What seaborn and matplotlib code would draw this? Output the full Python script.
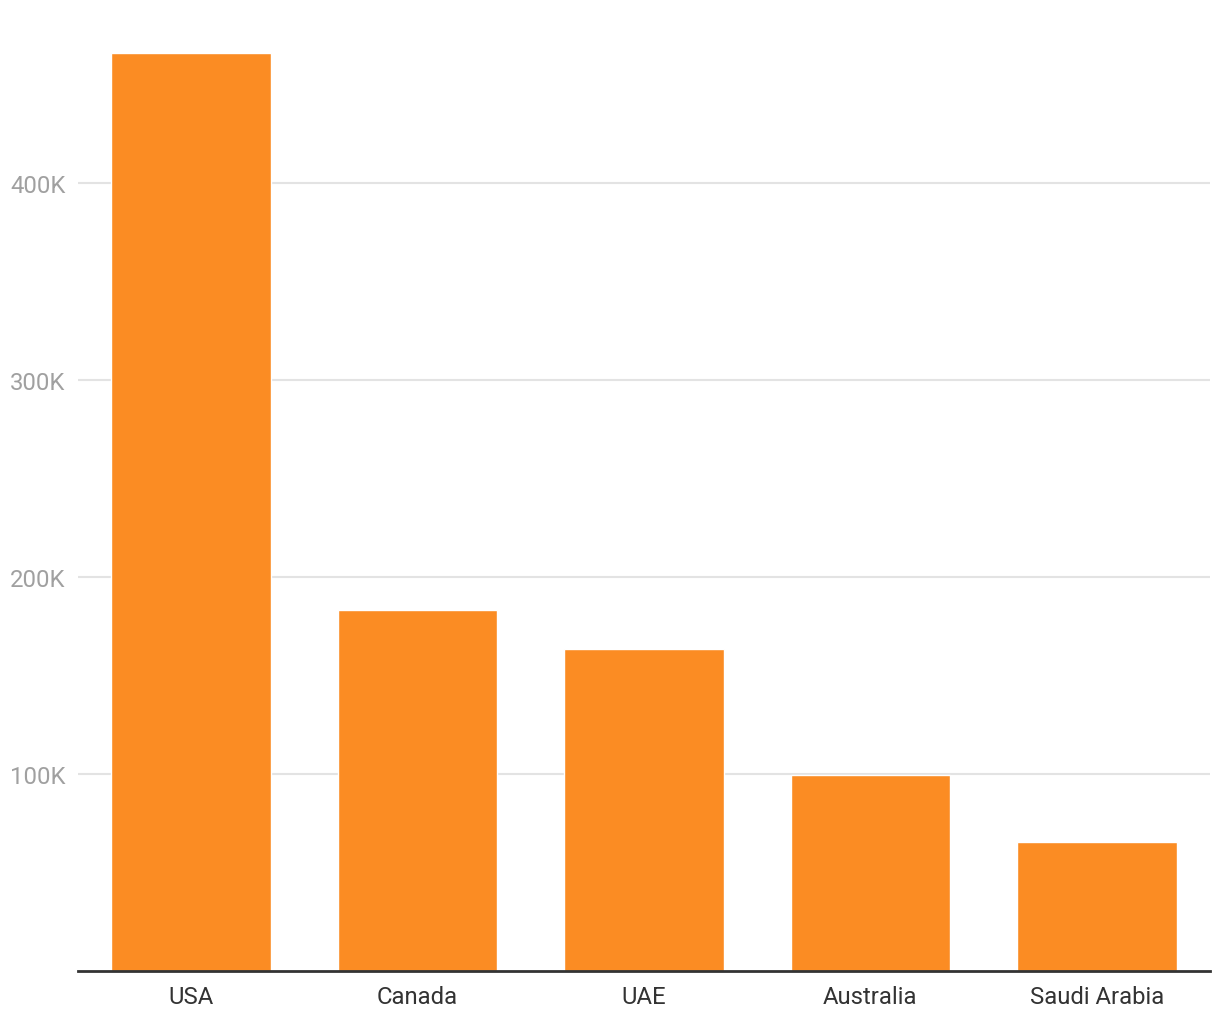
import matplotlib
matplotlib.use("Agg")
import matplotlib.pyplot as plt
import seaborn as sns
import pandas as pd
from matplotlib.ticker import FuncFormatter

countries = ["USA", "Canada", "UAE", "Australia", "Saudi Arabia"]
values = [466000, 183000, 163700, 99700, 65700]

df = pd.DataFrame({"country": countries, "value": values})

sns.set_style("white")
plt.rcParams["font.family"] = ["Roboto", "DejaVu Sans"]

fig = plt.figure(figsize=(12.2, 10.2), dpi=100)
ax = fig.add_axes([78/1220, 1 - 972/1020, (1210 - 78)/1220, (972 - 30)/1020])

sns.barplot(data=df, x="country", y="value", color="#FB8C23", saturation=1,
            width=0.705, ax=ax, zorder=2)

ax.set_xlim(-0.5, 4.5)
ax.set_ylim(0, 942/197*100000)
ax.set_yticks([100000, 200000, 300000, 400000])
ax.yaxis.set_major_formatter(FuncFormatter(lambda v, p: f"{int(v/1000)}K"))
ax.grid(axis="y", color="#E3E3E3", linewidth=1.5, zorder=0)
ax.set_axisbelow(True)
for s in ["top", "right", "left"]:
    ax.spines[s].set_visible(False)
ax.spines["bottom"].set_color("#333333")
ax.spines["bottom"].set_linewidth(2)
ax.set_xlabel("")
ax.set_ylabel("")
ax.tick_params(axis="y", length=0, labelsize=17.2, labelcolor="#A0A0A0", pad=9)
ax.tick_params(axis="x", length=0, labelsize=17.2, labelcolor="#333333", pad=10)

fig.savefig("out.png", dpi=100)
